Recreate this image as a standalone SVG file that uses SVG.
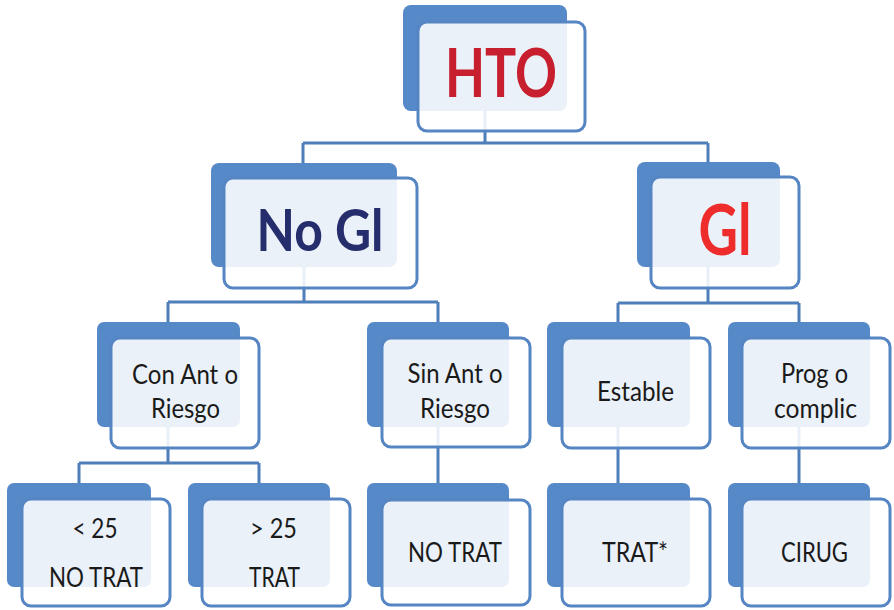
<svg xmlns="http://www.w3.org/2000/svg" width="894" height="610" viewBox="0 0 894 610">
<style>
.back{fill:#5689C7;}
.front{fill:#ffffff;fill-opacity:0.88;stroke:#5585C3;stroke-width:3;}
.conn{fill:none;stroke:#4F7FBA;stroke-width:3;}
.t{font-family:Lato,"Liberation Sans",sans-serif;font-size:27px;fill:#1a1a1a;text-anchor:middle;}
.b{font-family:Lato,"Liberation Sans",sans-serif;font-weight:bold;text-anchor:middle;}
</style>
<rect width="894" height="610" fill="#ffffff"/>
<g id="connectors" class="conn">
<path d="M485 111V143M303 143H708M303 143V163M708 143V162"/>
<path d="M304 267V302M168 302H438M168 302V322M438 302V322"/>
<path d="M708 267V303M618 303H799M618 303V322M799 303V322"/>
<path d="M168 427V463M79 463H259M79 463V483M259 463V483"/>
<path d="M438 427V483"/>
<path d="M618 427V483"/>
<path d="M799 427V483"/>
</g>
<g id="hto">
<rect class="back" x="403" y="5" width="164" height="106" rx="8"/>
<rect class="front" x="418" y="22" width="167" height="109" rx="9"/>
<text class="b" x="501" y="97" font-size="66" fill="#C71F2D" textLength="112" lengthAdjust="spacingAndGlyphs">HTO</text>
</g>
<g id="nogi">
<rect class="back" x="211" y="163" width="186" height="104" rx="8"/>
<rect class="front" x="224" y="178" width="193" height="110" rx="9"/>
<text class="b" x="320" y="251" font-size="58" fill="#262D6D" textLength="127" lengthAdjust="spacingAndGlyphs">No Gl</text>
</g>
<g id="gi">
<rect class="back" x="637" y="162" width="143" height="105" rx="8"/>
<rect class="front" x="651" y="177" width="148" height="111" rx="9"/>
<text class="b" x="725" y="255" font-size="70" fill="#EE2C2C" textLength="53" lengthAdjust="spacingAndGlyphs">Gl</text>
</g>
<g id="con">
<rect class="back" x="97" y="322" width="143" height="105" rx="7"/>
<rect class="front" x="111" y="338" width="148" height="110" rx="9"/>
<text class="t" x="185" y="384" textLength="106" lengthAdjust="spacingAndGlyphs">Con Ant o</text>
<text class="t" x="185.5" y="418" textLength="69" lengthAdjust="spacingAndGlyphs">Riesgo</text>
</g>
<g id="sin">
<rect class="back" x="367" y="322" width="142" height="105" rx="7"/>
<rect class="front" x="382" y="338" width="148" height="109" rx="9"/>
<text class="t" x="455" y="383" textLength="95" lengthAdjust="spacingAndGlyphs">Sin Ant o</text>
<text class="t" x="455" y="418" textLength="70" lengthAdjust="spacingAndGlyphs">Riesgo</text>
</g>
<g id="estable">
<rect class="back" x="547" y="322" width="143" height="105" rx="7"/>
<rect class="front" x="562" y="338" width="148" height="110" rx="9"/>
<text class="t" x="635.5" y="401" textLength="77" lengthAdjust="spacingAndGlyphs">Estable</text>
</g>
<g id="prog">
<rect class="back" x="728" y="322" width="142" height="105" rx="7"/>
<rect class="front" x="742" y="338" width="148" height="110" rx="9"/>
<text class="t" x="814.5" y="383" textLength="67" lengthAdjust="spacingAndGlyphs">Prog o</text>
<text class="t" x="815.5" y="418" textLength="83" lengthAdjust="spacingAndGlyphs">complic</text>
</g>
<g id="lt25">
<rect class="back" x="7" y="483" width="144" height="104" rx="7"/>
<rect class="front" x="22" y="499" width="148" height="107" rx="9"/>
<text class="t" x="95" y="538" textLength="45" lengthAdjust="spacingAndGlyphs">&lt; 25</text>
<text class="t" x="96" y="587" textLength="94" lengthAdjust="spacingAndGlyphs">NO TRAT</text>
</g>
<g id="gt25">
<rect class="back" x="188" y="483" width="142" height="104" rx="7"/>
<rect class="front" x="202" y="499" width="148" height="107" rx="9"/>
<text class="t" x="273.5" y="538" textLength="47" lengthAdjust="spacingAndGlyphs">&gt; 25</text>
<text class="t" x="274.5" y="587" textLength="51" lengthAdjust="spacingAndGlyphs">TRAT</text>
</g>
<g id="notrat">
<rect class="back" x="367" y="483" width="142" height="104" rx="7"/>
<rect class="front" x="382" y="500" width="148" height="105" rx="9"/>
<text class="t" x="455" y="562" textLength="94" lengthAdjust="spacingAndGlyphs">NO TRAT</text>
</g>
<g id="trat">
<rect class="back" x="547" y="483" width="143" height="104" rx="7"/>
<rect class="front" x="562" y="499" width="148" height="107" rx="9"/>
<text class="t" x="635" y="562" textLength="66" lengthAdjust="spacingAndGlyphs">TRAT*</text>
</g>
<g id="cirug">
<rect class="back" x="728" y="483" width="142" height="104" rx="7"/>
<rect class="front" x="742" y="499" width="148" height="107" rx="9"/>
<text class="t" x="814.5" y="562" textLength="67" lengthAdjust="spacingAndGlyphs">CIRUG</text>
</g>
</svg>
